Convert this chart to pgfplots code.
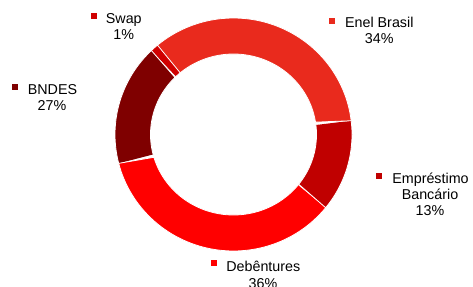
\documentclass[border=0pt]{standalone}
\usepackage{pgfplots}
\pgfplotsset{compat=1.18}
\usepackage{pgfplotstable}
\usepackage{fontspec}
\setmainfont{Liberation Sans}
\definecolor{cEnel}{HTML}{E92A1D}
\definecolor{cEmp}{HTML}{C00000}
\definecolor{cDeb}{HTML}{FF0000}
\definecolor{cBND}{HTML}{7F0000}
\definecolor{cSwap}{HTML}{D00000}

\pgfplotstableread{
label value
Enel 34.2
Emprestimo 12.7
Debentures 35.2
BNDES 16.8
Swap 1.1
}\donutdata

\newcommand\startang{129.9}
\newcommand\cx{233.5}
\newcommand\cy{134.5}
\newcommand\Rx{118.5}
\newcommand\Ry{116.5}
\newcommand\rx{83}
\newcommand\ry{80.5}
\gdef\cumul{0}
\newcommand\slicecalc[2]{%
  \pgfplotstablegetelem{#1}{value}\of\donutdata
  \pgfmathsetmacro\tmpA{\startang-3.6*\cumul}%
  \pgfmathsetmacro\tmpC{\cumul+\pgfplotsretval}%
  \xdef\cumul{\tmpC}%
  \pgfmathsetmacro\tmpB{\startang-3.6*\cumul}%
  \expandafter\xdef\csname a#2\endcsname{\tmpA}%
  \expandafter\xdef\csname b#2\endcsname{\tmpB}%
}
\newcommand\slice[4]{%
  \addplot[#1, domain=0:2, samples=121, variable=\t]
  ({\cx + (\Rx - (\Rx-\rx)*(\t>1))*cos(#2 + (#3-#2)*min(\t,2-\t))},
   {\cy - (\Ry - (\Ry-\ry)*(\t>1))*sin(#2 + (#3-#2)*min(\t,2-\t))});
}
\tikzset{lbl/.style={anchor=base, inner sep=0, font=\fontsize{14.3bp}{16bp}\selectfont},
  key/.style={fill=#1, minimum size=6bp, inner sep=0}}

\begin{document}%
\slicecalc{0}{A}\slicecalc{1}{B}\slicecalc{2}{C}\slicecalc{3}{D}\slicecalc{4}{E}%
\begin{tikzpicture}
\begin{axis}[
  scale only axis, width=473bp, height=287bp,
  xmin=0, xmax=473, ymin=0, ymax=287, y dir=reverse,
  hide axis, clip=false,
]
\slice{fill=cEnel, draw=none}{\aA}{\bA}{}
\slice{fill=cEmp, draw=none}{\aB}{\bB}{}
\slice{fill=cDeb, draw=none}{\aC}{\bC}{}
\slice{fill=cBND, draw=none}{\aD}{\bD}{}
\slice{fill=cSwap, draw=none}{\aE}{\bE}{}
\slice{draw=white, line width=0.8pt, fill=none}{\aA}{\bA}{}
\slice{draw=white, line width=0.8pt, fill=none}{\aB}{\bB}{}
\slice{draw=white, line width=0.8pt, fill=none}{\aC}{\bC}{}
\slice{draw=white, line width=0.8pt, fill=none}{\aD}{\bD}{}
\slice{draw=white, line width=0.8pt, fill=none}{\aE}{\bE}{}

\node[lbl] at (axis cs:123.8,23.3) {Swap};
\node[lbl] at (axis cs:123.8,39.3) {1\%};
\node[key=cSwap] at (axis cs:94,16.3) {};

\node[lbl] at (axis cs:379.3,27.3) {Enel Brasil};
\node[lbl] at (axis cs:379.3,44) {34\%};
\node[key=cEnel] at (axis cs:332.3,20.7) {};

\node[lbl] at (axis cs:52.5,94.3) {BNDES};
\node[lbl] at (axis cs:52,110.7) {27\%};
\node[key=cBND] at (axis cs:15.3,86.8) {};

\node[lbl] at (axis cs:430.5,183.3) {Empréstimo};
\node[lbl] at (axis cs:430,199.3) {Bancário};
\node[lbl] at (axis cs:430,215.3) {13\%};
\node[key=cEmp] at (axis cs:379.2,176.3) {};

\node[lbl] at (axis cs:263.3,271) {Debêntures};
\node[lbl] at (axis cs:263,288) {36\%};
\node[key=cDeb] at (axis cs:213.8,262.8) {};
\end{axis}
\pgfresetboundingbox
\path[use as bounding box] (current axis.south west) rectangle (current axis.north east);
\end{tikzpicture}%
\end{document}
